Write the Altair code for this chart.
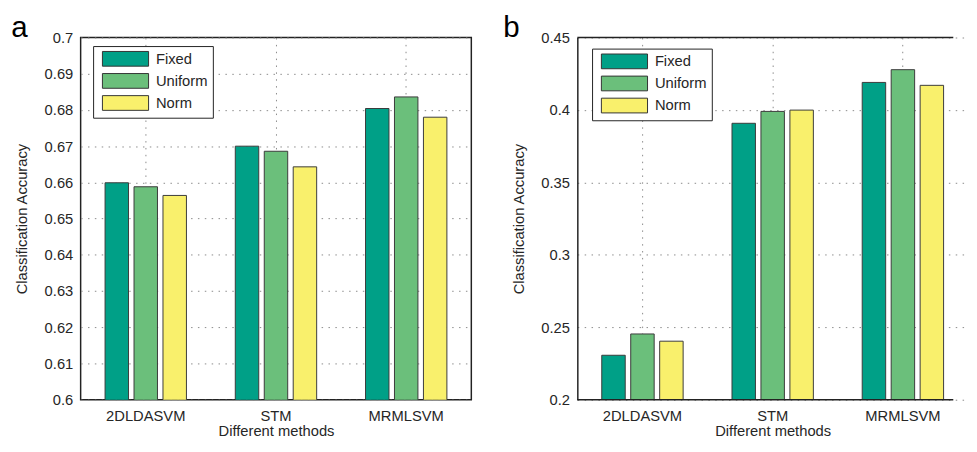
import altair as alt
import pandas as pd

methods = ["2DLDASVM", "STM", "MRMLSVM"]
schemes = ["Fixed", "Uniform", "Norm"]
colors = ["#00A087", "#6BBF7B", "#F9F06C"]

# panel a values
a_fixed = [0.6599, 0.6700, 0.6804]
a_uniform = [0.6588, 0.6686, 0.6836]
a_norm = [0.6564, 0.6643, 0.6780]
a_ticks = [0.6, 0.61, 0.62, 0.63, 0.64, 0.65, 0.66, 0.67, 0.68, 0.69, 0.7]

# panel b values
b_fixed = [0.2307, 0.3908, 0.4190]
b_uniform = [0.2454, 0.3990, 0.4278]
b_norm = [0.2404, 0.3999, 0.4170]
b_ticks = [0.2, 0.25, 0.3, 0.35, 0.4, 0.45]

FONT = "Liberation Sans"
TXT = "#262626"
FRAME = "#222222"
H = 369
# wide legend swatch drawn from a small symbol size (unit = 7.5 px)
SWATCH = "M-1,-1H5.267V1H-1Z"


def frame(fixed, uniform, norm):
    rows = []
    for m, f, u, n in zip(methods, fixed, uniform, norm):
        rows.append({"method": m, "scheme": "Fixed", "acc": f})
        rows.append({"method": m, "scheme": "Uniform", "acc": u})
        rows.append({"method": m, "scheme": "Norm", "acc": n})
    return pd.DataFrame(rows)


def panel(df, letter, domain, ticks, letter_x, legend_x, legend_y, width, open_right):
    bars = alt.Chart(df).mark_bar(
        stroke="#3a3a3a", strokeWidth=1, clip=True, opacity=1
    ).encode(
        x=alt.X(
            "method:N",
            sort=methods,
            scale=alt.Scale(paddingInner=0, paddingOuter=0, range=[0, 398]),
            axis=alt.Axis(
                title="Different methods",
                labelAngle=0,
                ticks=False,
                domain=False,
                grid=True,
                bandPosition=0.5,
                labelPadding=9,
                titlePadding=0,
                titleX=199,
            ),
        ),
        xOffset=alt.XOffset(
            "scheme:N",
            sort=schemes,
            scale=alt.Scale(paddingInner=0.19, paddingOuter=0.8435),
        ),
        y=alt.Y(
            "acc:Q",
            scale=alt.Scale(domain=domain, zero=False, nice=False),
            axis=alt.Axis(
                values=ticks,
                format=".2~f",
                title="Classification Accuracy",
                ticks=False,
                domain=open_right,
                domainColor=FRAME,
                domainWidth=1.5,
                grid=True,
                labelPadding=8,
                titlePadding=15,
            ),
        ),
        color=alt.Color(
            "scheme:N",
            sort=schemes,
            scale=alt.Scale(domain=schemes, range=colors),
            legend=alt.Legend(
                orient="none",
                legendX=legend_x,
                legendY=legend_y,
                title=None,
                symbolType=SWATCH,
                symbolSize=225,
                symbolStrokeColor="#333333",
                symbolStrokeWidth=1,
                symbolOpacity=1,
                symbolOffset=4,
                labelFont=FONT,
                labelFontSize=15,
                labelColor=TXT,
                labelOffset=39,
                padding=5,
                rowPadding=2.5,
                strokeColor=FRAME,
                fillColor="white",
                cornerRadius=0,
            ),
        ),
    )
    one = pd.DataFrame({"tag": [letter]})
    tag = alt.Chart(one).mark_text(
        font=FONT, fontSize=30, align="left", baseline="alphabetic", color="#000000"
    ).encode(
        x=alt.value(letter_x),
        y=alt.value(-1),
        text="tag:N",
    )
    layers = [bars, tag]
    if open_right:
        # top and bottom frame lines; the right side is cut off as in the original
        top = alt.Chart(one).mark_rule(color=FRAME, strokeWidth=1.5).encode(
            x=alt.value(0), x2=alt.value(width), y=alt.value(0)
        )
        bottom = alt.Chart(one).mark_rule(color=FRAME, strokeWidth=1.5).encode(
            x=alt.value(0), x2=alt.value(width), y=alt.value(H)
        )
        layers += [top, bottom]
        return alt.layer(*layers).properties(
            width=width, height=H, view=alt.ViewBackground(stroke="transparent")
        )
    return alt.layer(*layers).properties(width=width, height=H)


pa = panel(frame(a_fixed, a_uniform, a_norm), "a", [0.6, 0.7], a_ticks, -70.6, 12.7, 8.7, 398, False)
pb = panel(frame(b_fixed, b_uniform, b_norm), "b", [0.2, 0.45], b_ticks, -75.5, 15, 11.3, 383, True)

chart = (
    alt.hconcat(pa, pb, spacing=30)
    .resolve_scale(color="independent")
    .properties(padding={"left": 2, "top": 0, "right": 0, "bottom": 0})
    .configure(background="white")
    .configure_view(stroke=FRAME, strokeWidth=1.5)
    .configure_axis(
        labelFont=FONT,
        labelFontSize=15,
        labelColor=TXT,
        titleFont=FONT,
        titleFontSize=15,
        titleFontWeight="normal",
        titleColor=TXT,
        gridColor="#8a8a8a",
        gridDash=[1.5, 5.5],
        gridWidth=1,
        gridOpacity=1,
    )
)

chart.save("out.html", embed_options={"renderer": "svg", "actions": False})
